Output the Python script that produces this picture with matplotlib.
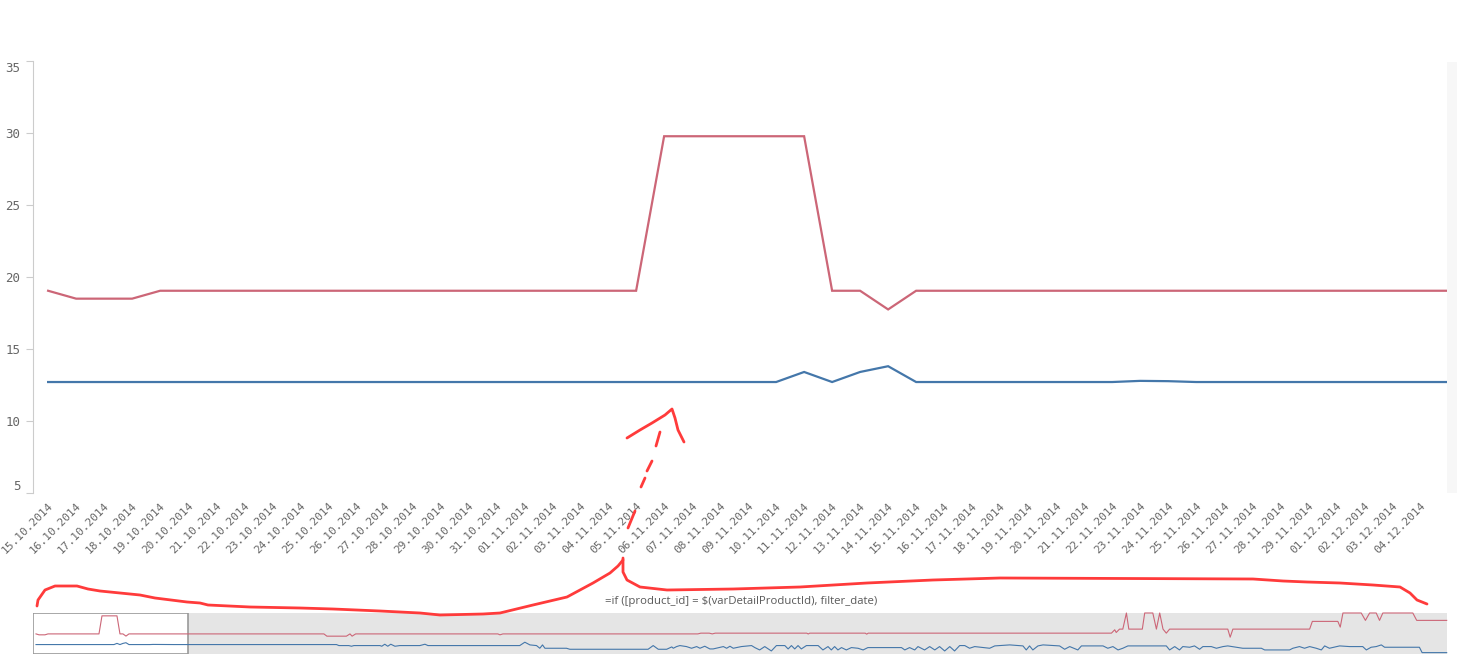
import matplotlib
matplotlib.use("Agg")
import matplotlib.pyplot as plt
from matplotlib.patches import Rectangle

W, H = 1457, 657

dates = ["15.10.2014", "16.10.2014", "17.10.2014", "18.10.2014", "19.10.2014",
         "20.10.2014", "21.10.2014", "22.10.2014", "23.10.2014", "24.10.2014",
         "25.10.2014", "26.10.2014", "27.10.2014", "28.10.2014", "29.10.2014",
         "30.10.2014", "31.10.2014", "01.11.2014", "02.11.2014", "03.11.2014",
         "04.11.2014", "05.11.2014", "06.11.2014", "07.11.2014", "08.11.2014",
         "09.11.2014", "10.11.2014", "11.11.2014", "12.11.2014", "13.11.2014",
         "14.11.2014", "15.11.2014", "16.11.2014", "17.11.2014", "18.11.2014",
         "19.11.2014", "20.11.2014", "21.11.2014", "22.11.2014", "23.11.2014",
         "24.11.2014", "25.11.2014", "26.11.2014", "27.11.2014", "28.11.2014",
         "29.11.2014", "01.12.2014", "02.12.2014", "03.12.2014", "04.12.2014"]
# last value belongs to the next (scrolled off) point, its label is not shown
red_vals = [19.05, 18.5, 18.5, 18.5, 19.05, 19.05, 19.05, 19.05, 19.05, 19.05,
            19.05, 19.05, 19.05, 19.05, 19.05, 19.05, 19.05, 19.05, 19.05, 19.05,
            19.05, 19.05, 29.8, 29.8, 29.8, 29.8, 29.8, 29.8, 19.05, 19.05,
            17.75, 19.05, 19.05, 19.05, 19.05, 19.05, 19.05, 19.05, 19.05, 19.05,
            19.05, 19.05, 19.05, 19.05, 19.05, 19.05, 19.05, 19.05, 19.05, 19.05,
            19.05]
blue_vals = [12.7, 12.7, 12.7, 12.7, 12.7, 12.7, 12.7, 12.7, 12.7, 12.7,
             12.7, 12.7, 12.7, 12.7, 12.7, 12.7, 12.7, 12.7, 12.7, 12.7,
             12.7, 12.7, 12.7, 12.7, 12.7, 12.7, 12.7, 13.4, 12.7, 13.4,
             13.8, 12.7, 12.7, 12.7, 12.7, 12.7, 12.7, 12.7, 12.7, 12.78,
             12.76, 12.7, 12.7, 12.7, 12.7, 12.7, 12.7, 12.7, 12.7, 12.7,
             12.7]
y_ticks = [5, 10, 15, 20, 25, 30, 35]

# overview (mini chart) vertices after the visible window: (day index, value)
mini_red_day = [96, 97, 103.5, 104.7, 105.4, 106.6, 154, 154.7, 155.7,
                220.7, 221.7, 224.5, 225.5, 226.5, 257, 257.5, 258, 276.5, 277, 277.5,
                358.6, 359.7, 360.2, 361.3, 362.4, 363.6, 364.4, 368.9, 369.7, 372.4,
                373.6, 374.7, 375.8, 376.9, 378, 397.4, 398.2, 399.1, 424.7, 425.6,
                434.1, 434.9, 435.8, 441.9, 443.3, 444.7, 446.9, 448, 449.1, 459.1,
                460.4, 470.4]
mini_red_val = [19.05, 17.7, 17.7, 19.05, 17.7, 19.05, 19.05, 18.5, 19.05,
                19.05, 19.5, 19.5, 19.05, 19.5, 19.5, 19.0, 19.5, 19.5, 18.9, 19.5,
                19.5, 21.5, 19.9, 21.9, 21.9, 31.5, 21.9, 21.9, 31.5, 31.5,
                21.9, 31.5, 21.9, 19.5, 21.9, 21.9, 17.1, 21.9, 21.9, 26.5,
                26.5, 23.1, 31.5, 31.5, 27.1, 31.5, 31.5, 27.1, 31.5, 31.5,
                27.1, 27.1]
mini_blue_day = [100.2, 101, 104.3, 105.2, 106, 114.7, 115.3, 116.3, 117.3, 118.3,
                 119.7, 121.3, 128, 129.7, 130.7, 161.3, 163, 164.7, 166.9, 168,
                 168.9, 169.7, 176.9, 178, 204.1, 205.8, 207.5, 210.3, 212, 212.5,
                 213.6, 214.7, 216.9, 218.6, 220.3, 221.4, 223, 224.7, 225.8, 229.2,
                 230.3, 231.4, 232.5, 234.7, 235.2, 238.6, 239.7, 241.3, 243, 245.2,
                 246.9, 249.7, 250.8, 251.9, 253, 254.1, 255.2, 256.9, 260.8, 262.4,
                 264.1, 265.2, 266.3, 267.4, 268.6, 270.2, 271.9, 274.1, 275.8, 277.4,
                 288.6, 289.7, 291.3, 293, 294.1, 296.3, 298, 299.7, 301.3, 303,
                 304.7, 306.3, 308, 309.7, 311.3, 313, 318, 319.7, 324.7, 329.1,
                 330.2, 331.3, 332.4, 334.1, 335.8, 341.3, 343, 344.7, 347.4, 348.6,
                 355.8, 357.4, 359.1, 360.8, 362.4, 364.1, 376.9, 378, 379.7, 381.3,
                 382.4, 384.7, 386.3, 388, 389.1, 391.9, 393.6, 395.8, 397.4, 400.2,
                 402.4, 408.6, 409.7, 418, 419.1, 421.3, 423, 424.7, 426.9, 428.6,
                 429.7, 431.3, 434.7, 438, 442.4, 443.6, 445.2, 446.9, 448.6, 449.7,
                 461.3, 462.2, 470.4]
mini_blue_val = [12.7, 12.1, 12.1, 11.7, 12.1, 12.1, 11.7, 12.9, 11.7, 12.9,
                 11.7, 12.1, 12.1, 12.9, 12.1, 12.1, 14.1, 12.5, 12.1, 10.5,
                 12.5, 10.5, 10.5, 9.9, 9.9, 12.1, 9.9, 9.9, 11.3, 10.5,
                 11.5, 12.1, 11.5, 10.5, 11.5, 10.5, 11.7, 10.1, 10.1, 11.5,
                 10.5, 11.7, 10.5, 11.3, 11.5, 12.1, 10.9, 9.5, 11.5, 8.9,
                 12.1, 12.1, 10.1, 12.1, 10.1, 12.1, 10.1, 12.1, 12.1, 9.5,
                 11.5, 9.5, 11.5, 9.5, 10.9, 9.5, 10.9, 10.5, 9.5, 10.9,
                 10.9, 9.5, 10.9, 9.5, 11.5, 9.5, 11.5, 9.5, 11.5, 8.9,
                 11.5, 8.9, 12.1, 12.1, 10.5, 11.5, 10.5, 11.9, 12.5, 11.9,
                 9.5, 11.9, 9.5, 11.9, 12.5, 11.9, 9.9, 11.5, 9.5, 11.9,
                 11.9, 10.5, 11.5, 9.5, 10.5, 11.9, 11.9, 9.5, 11.5, 9.5,
                 11.5, 11.1, 11.9, 9.9, 11.5, 11.5, 10.5, 11.5, 11.9, 11.1,
                 10.5, 10.5, 9.5, 9.5, 10.5, 11.5, 10.5, 11.5, 10.5, 9.5,
                 11.9, 10.5, 11.9, 11.5, 11.5, 9.5, 11.1, 11.5, 12.5, 11.1,
                 11.1, 7.9, 7.9]

# hand-drawn red strokes on top of the screenshot (pixel coordinates)
scribble_x = [37, 38, 45, 55, 77, 88, 100, 120, 140, 155, 187, 200, 208, 250, 300,
              333, 380, 420, 440, 483, 500, 533, 567, 593, 610, 618, 623]
scribble_y = [606, 600, 590, 586, 586, 589, 591, 593, 595, 598, 602, 603, 605, 607, 608,
              609, 611, 613, 615, 614, 613, 605, 597, 583, 573, 566, 560]
scribble2_x = [623, 623, 627, 640, 667, 733, 800, 867, 933, 1000, 1253, 1283, 1307,
               1340, 1373, 1400, 1410, 1417, 1427]
scribble2_y = [558, 572, 580, 587, 590, 589, 587, 583, 580, 578, 579, 581, 582,
               583, 585, 587, 593, 600, 604]
arrow_x = [627, 640, 652, 665, 672, 675, 678, 684]
arrow_y = [438, 430, 423, 415, 409, 418, 430, 442]
dash_segments = [((628, 528), (635, 511)), ((641, 487), (645, 478)),
                 ((647, 471), (652, 461)), ((656, 446), (660, 432))]

formula = "=if ([product_id] = $(varDetailProductId), filter_date)"

RED = "#cc6677"
BLUE = "#4477aa"
SCRIBBLE = "#ff3b3b"
TICK = "#666666"


def px_box(x0, y0, x1, y1):
    return [x0 / W, 1 - y1 / H, (x1 - x0) / W, (y1 - y0) / H]


fig = plt.figure(figsize=(W / 100, H / 100), dpi=100)

# main line chart
ax = fig.add_axes(px_box(33, 61.5, 1447, 492.7))
x = list(range(len(red_vals)))
ax.plot(x, red_vals, color=RED, lw=1.6, solid_joinstyle="miter")
ax.plot(x, blue_vals, color=BLUE, lw=1.6, solid_joinstyle="miter")
ax.set_xlim(-0.54, 49.96)
ax.set_ylim(5, 35)
for s in ["top", "right", "bottom"]:
    ax.spines[s].set_visible(False)
ax.spines["left"].set_color("#cccccc")
ax.set_yticks(y_ticks)
ax.set_yticklabels([str(v) for v in y_ticks], family="DejaVu Sans Mono",
                   fontsize=9, color=TICK)
ax.tick_params(axis="y", length=5, color="#cccccc", pad=4)
for lab in ax.get_yticklabels():
    if lab.get_text() == "35":
        lab.set_va("top")
    elif lab.get_text() == "5":
        lab.set_va("bottom")
ax.set_xticks(x[:len(dates)])
ax.set_xticklabels(dates, rotation=45, ha="right", rotation_mode="anchor",
                   family="DejaVu Sans Mono", fontsize=8, color=TICK)
ax.tick_params(axis="x", length=0, pad=6)

# faint scroll strip at right edge
fig.add_artist(Rectangle((1447 / W, 1 - 493 / H), 10 / W, 431 / H,
                         transform=fig.transFigure, color="#f7f7f7", lw=0))

# overview mini chart
mx = fig.add_axes(px_box(33, 613, 1447, 654))
mx.axvspan(50.8, 470.5, color="#e5e5e5", lw=0, zorder=0)
mx.add_patch(Rectangle((-1, 7.08), 51.8, 24.42, facecolor="white",
                       edgecolor="#999999", lw=1.2, zorder=1))
mx.plot(x + mini_red_day, red_vals + mini_red_val, color=RED, lw=0.8,
        zorder=2, clip_on=False)
mx.plot(x + mini_blue_day, blue_vals + mini_blue_val, color=BLUE, lw=0.8,
        zorder=2, clip_on=False)
mx.set_xlim(-1, 470.5)
mx.set_ylim(7.08, 31.5)
mx.axis("off")

# overlay for hand-drawn marks and the formula text
ov = fig.add_axes([0, 0, 1, 1], zorder=10)
ov.set_xlim(0, W)
ov.set_ylim(H, 0)
ov.axis("off")
ov.patch.set_alpha(0)
ov.plot(scribble_x, scribble_y, color=SCRIBBLE, lw=2, solid_capstyle="round")
ov.plot(scribble2_x, scribble2_y, color=SCRIBBLE, lw=2, solid_capstyle="round")
ov.plot(arrow_x, arrow_y, color=SCRIBBLE, lw=2, solid_capstyle="round")
for (a, b) in dash_segments:
    ov.plot([a[0], b[0]], [a[1], b[1]], color=SCRIBBLE, lw=2, solid_capstyle="round")
ov.text(741, 601.5, formula, ha="center", va="center", fontsize=8.2,
        family="Open Sans", color="#595959")

fig.savefig("out.png", dpi=100)
